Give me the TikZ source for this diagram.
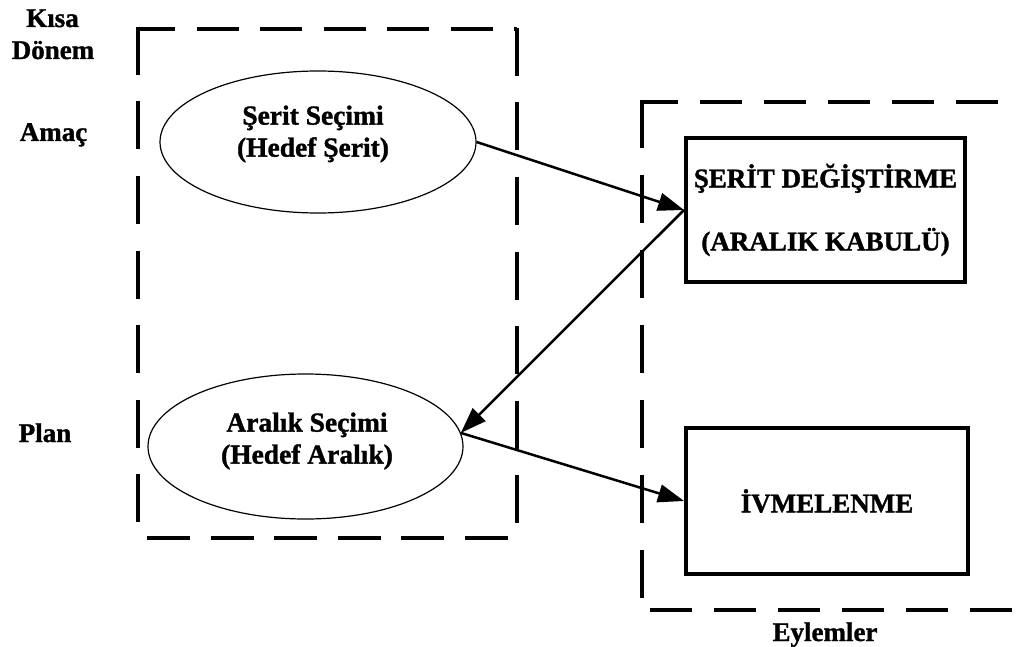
\documentclass[tikz,border=0pt]{standalone}
\usepackage{fontspec}
\setmainfont{Liberation Serif}[BoldFeatures={FakeBold=1.2}]
\usetikzlibrary{arrows.meta,shapes.geometric}

\begin{document}
\begin{tikzpicture}[x=1pt,y=-1pt,
  vdash/.style={line width=4pt, dash pattern=on 48pt off 26.5pt},
  hdash/.style={line width=4pt, dash pattern=on 42pt off 21.5pt},
  goal/.style={ellipse, draw, line width=1.2pt, inner sep=0pt},
  act/.style={draw, line width=4pt, inner sep=0pt, align=center,
    font=\bfseries\fontsize{27}{63}\selectfont},
  txt/.style={font=\bfseries\fontsize{27.5}{32}\selectfont, align=center, inner sep=0pt},
  lbl/.style={font=\bfseries\fontsize{27}{30}\selectfont, anchor=base, inner sep=0pt},
  flow/.style={line width=2.5pt, -{Triangle[length=26pt,width=18pt]}}
]
\useasboundingbox (0,0) rectangle (1016,647);
\clip (0,0) rectangle (1016,647);
\fill[white] (0,0) rectangle (1016,647);

% left frame (short-term level), each side with its own dash phase
\draw[hdash, dash phase=3pt] (136,29) -- (517,29);
\draw[vdash] (138,27) -- (138,538);
\draw[vdash] (517,28) -- (517,538);
\draw[hdash, dash pattern=on 43pt off 20.6pt] (147,538) -- (517,538);

% right frame (actions)
\draw[hdash, dash pattern=on 42pt off 22pt, dash phase=4pt] (640,102) -- (1030,102);
\draw[vdash, dash pattern=on 48pt off 27pt] (642,100) -- (642,611);
\draw[hdash, dash pattern=on 42pt off 22pt] (650,610) -- (1030,610);

% row and group labels
\node[lbl] (kisa) at (52.5,27) {Kısa};
\node[lbl] (donem) at (53,59) {Dönem};
\node[lbl] (amac) at (53.5,141) {Amaç};
\node[lbl] (plan) at (45,442) {Plan};
\node[lbl] (eylem) at (825,641) {Eylemler};

% goal and plan ellipses
\node[goal, minimum width=316pt, minimum height=142pt] (e1) at (318,142) {};
\node[txt] (t1) at (313,134) {Şerit Seçimi\\(Hedef Şerit)};
\node[goal, minimum width=315pt, minimum height=145pt] (e2) at (305.5,446.5) {};
\node[txt] (t2) at (307,441) {Aralık Seçimi\\(Hedef Aralık)};

% action boxes
\node[act, minimum width=279pt, minimum height=144pt] (b1) at (825.5,210)
  {ŞERİT DEĞİŞTİRME\\(ARALIK KABULÜ)};
\node[act, minimum width=282pt, minimum height=146pt] (b2) at (827,501) {İVMELENME};

% connectors
\draw[flow] (e1.east) -- (b1.west);
\draw[flow] (b1.west) -- (e2.5);
\draw[flow] (e2.5) -- (b2.west);
\end{tikzpicture}
\end{document}
